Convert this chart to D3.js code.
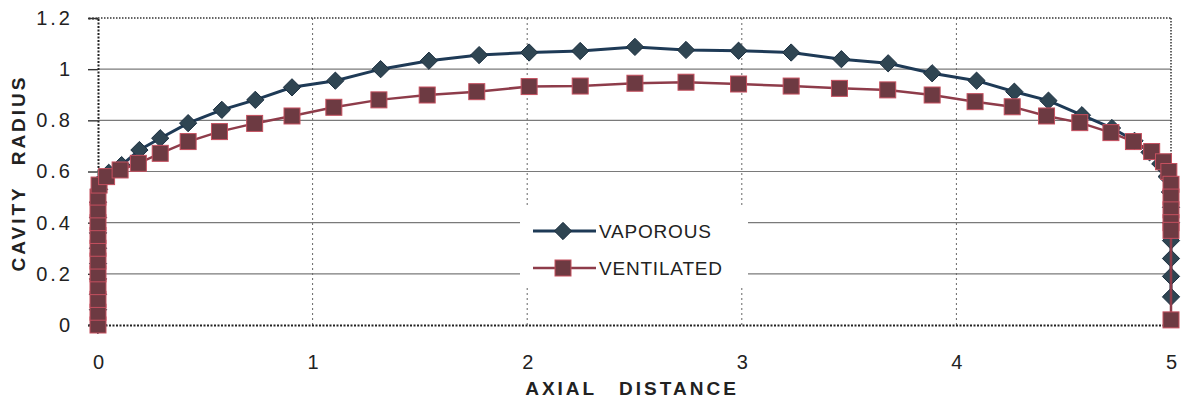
<!DOCTYPE html>
<html><head><meta charset="utf-8">
<script src="https://cdn.jsdelivr.net/npm/d3@7"></script>
<style>body{margin:0;background:#fff}svg{display:block}text{font-family:"Liberation Sans",Arial,sans-serif}</style>
</head><body>
<svg id="c" width="1183" height="405"></svg>
<script>
const xTicks = [0,1,2,3,4,5];
const yTicks = [0,0.2,0.4,0.6,0.8,1,1.2];
const seriesNames = ["VAPOROUS","VENTILATED"];
const xVap = [0,0,0,0,0,0,0,0,0,0.005,0.02,0.05,0.11,0.193,0.29,0.42,0.577,0.733,0.904,1.106,1.317,1.542,1.776,2.009,2.247,2.502,2.74,2.985,3.23,3.464,3.682,3.887,4.094,4.27,4.429,4.585,4.725,4.83,4.9,4.95,4.98,4.995,5,5,5,5,5,5];
const yVap = [0,0.06,0.12,0.18,0.24,0.3,0.36,0.42,0.48,0.53,0.567,0.595,0.625,0.684,0.73,0.789,0.841,0.88,0.929,0.955,1.0,1.033,1.055,1.065,1.071,1.087,1.075,1.072,1.065,1.039,1.023,0.984,0.955,0.912,0.877,0.82,0.77,0.72,0.675,0.63,0.58,0.52,0.46,0.4,0.33,0.26,0.19,0.11];
const xVent = [0,0,0,0,0,0,0,0,0,0,0,0.005,0.04,0.103,0.188,0.29,0.42,0.566,0.73,0.904,1.099,1.309,1.534,1.765,2.009,2.247,2.502,2.74,2.985,3.23,3.455,3.68,3.887,4.087,4.26,4.42,4.575,4.72,4.825,4.91,4.965,4.99,5,5,5,5,5,5];
const yVent = [0,0.05,0.1,0.15,0.2,0.25,0.3,0.35,0.4,0.45,0.5,0.547,0.58,0.606,0.632,0.671,0.717,0.756,0.788,0.817,0.851,0.88,0.899,0.912,0.932,0.934,0.945,0.949,0.942,0.934,0.925,0.919,0.899,0.873,0.853,0.817,0.791,0.752,0.717,0.678,0.638,0.6,0.55,0.5,0.45,0.4,0.37,0.02];

const svg = d3.select("#c");
const x = d3.scaleLinear().domain([0,5]).range([98,1171]);
const y = d3.scaleLinear().domain([0,1.2]).range([325,18]);

// gridlines
svg.append("g").selectAll("line").data(yTicks.filter(d=>d>0 && d<1.2)).join("line")
  .attr("x1",x(0)).attr("x2",x(5)).attr("y1",d=>y(d)).attr("y2",d=>y(d))
  .attr("stroke","#7a7a7a").attr("stroke-width",1.2);
svg.append("g").selectAll("line").data(xTicks.filter(d=>d>0 && d<5)).join("line")
  .attr("x1",d=>x(d)).attr("x2",d=>x(d)).attr("y1",y(0)).attr("y2",y(1.2))
  .attr("stroke","#666").attr("stroke-width",1).attr("stroke-dasharray","2,3");
// border top/right dotted
svg.append("line").attr("x1",x(0)).attr("x2",x(5)).attr("y1",y(1.2)).attr("y2",y(1.2))
  .attr("stroke","#333").attr("stroke-width",1.5).attr("stroke-dasharray","1.5,1.5");
svg.append("line").attr("x1",x(5)).attr("x2",x(5)).attr("y1",y(1.2)).attr("y2",y(0))
  .attr("stroke","#333").attr("stroke-width",1.5).attr("stroke-dasharray","1.5,1.5");

// axes
const xAxis = d3.axisBottom(x).tickValues(xTicks).tickFormat(d3.format("d")).tickSize(0).tickPadding(30);
const gx = svg.append("g").attr("transform",`translate(0,${y(0)})`).call(xAxis);
gx.select(".domain").attr("stroke","#222").attr("stroke-width",2).attr("stroke-dasharray","2,1.5");
gx.selectAll("text").attr("font-size",20).attr("fill","#222");
const yAxis = d3.axisLeft(y).tickValues(yTicks).tickFormat(d=>d===0?"0":(d===1?"1":d3.format(".1f")(d))).tickSize(10).tickPadding(16);
const gy = svg.append("g").attr("transform",`translate(${x(0)},0)`).call(yAxis);
gy.select(".domain").attr("stroke","#222").attr("stroke-width",2).attr("stroke-dasharray","2,1.5");
gy.selectAll(".tick line").attr("stroke","#333").attr("stroke-width",1.4);
gy.selectAll("text").attr("font-size",20).attr("fill","#222").attr("letter-spacing","3px")
  .attr("text-anchor","start").attr("x",0)
  .each(function(){
    const n = this.getNumberOfChars();
    const ext = this.getExtentOfChar(n-1);
    const right = ext.x + ext.width;
    d3.select(this).attr("x", -25 - right);
  });

// titles
svg.append("text").attr("x",632).attr("y",395).attr("text-anchor","middle")
  .attr("font-size",19).attr("font-weight","bold").attr("letter-spacing","3px").attr("word-spacing","14px")
  .attr("fill","#222").text("AXIAL DISTANCE");
svg.append("text").attr("transform","translate(25,173) rotate(-90)").attr("text-anchor","middle")
  .attr("font-size",19).attr("font-weight","bold").attr("letter-spacing","3px").attr("word-spacing","12px")
  .attr("fill","#222").text("CAVITY RADIUS");

const vap = xVap.map((d,i)=>[d,yVap[i]]);
const vent = xVent.map((d,i)=>[d,yVent[i]]);
const line = d3.line().x(d=>x(d[0])).y(d=>y(d[1]));

const cols = {vap:{line:"#1e3a56",fill:"#2f4552",stroke:"#1b2f40"}, vent:{line:"#8e3c4a",fill:"#6d3a42",stroke:"#c5505f"}};

function drawVap(g, pts){
  g.append("path").datum(pts).attr("d",line).attr("fill","none").attr("stroke",cols.vap.line).attr("stroke-width",3);
  g.selectAll("path.m").data(pts).join("path").attr("class","m")
    .attr("d",d3.symbol().type(d3.symbolDiamond2).size(190))
    .attr("transform",d=>`translate(${x(d[0])},${y(d[1])})`)
    .attr("fill",cols.vap.fill).attr("stroke",cols.vap.stroke).attr("stroke-width",1);
}
function drawVent(g, pts){
  g.append("path").datum(pts).attr("d",line).attr("fill","none").attr("stroke",cols.vent.line).attr("stroke-width",2.5);
  g.selectAll("rect.m").data(pts).join("rect").attr("class","m")
    .attr("x",d=>x(d[0])-8).attr("y",d=>y(d[1])-8).attr("width",16).attr("height",16)
    .attr("fill",cols.vent.fill).attr("stroke",cols.vent.stroke).attr("stroke-width",1);
}
drawVap(svg.append("g"), vap);
drawVent(svg.append("g"), vent);

// legend
const lg = svg.append("g");
lg.append("rect").attr("x",520).attr("y",207).attr("width",228).attr("height",80).attr("fill","#fff");
const ly = [231,268];
lg.append("line").attr("x1",533).attr("x2",596).attr("y1",ly[0]).attr("y2",ly[0]).attr("stroke",cols.vap.line).attr("stroke-width",3);
lg.append("path").attr("d",d3.symbol().type(d3.symbolDiamond2).size(190)).attr("transform",`translate(563,${ly[0]})`)
  .attr("fill",cols.vap.fill).attr("stroke",cols.vap.stroke);
lg.append("line").attr("x1",533).attr("x2",596).attr("y1",ly[1]).attr("y2",ly[1]).attr("stroke",cols.vent.line).attr("stroke-width",2.5);
lg.append("rect").attr("x",555).attr("y",ly[1]-8).attr("width",16).attr("height",16)
  .attr("fill",cols.vent.fill).attr("stroke",cols.vent.stroke);
lg.selectAll("text.l").data(seriesNames).join("text").attr("class","l")
  .attr("x",599).attr("y",(d,i)=>ly[i]+7).attr("font-size",19).attr("letter-spacing","0.8px").attr("fill","#222").text(d=>d);
</script>
</body></html>
